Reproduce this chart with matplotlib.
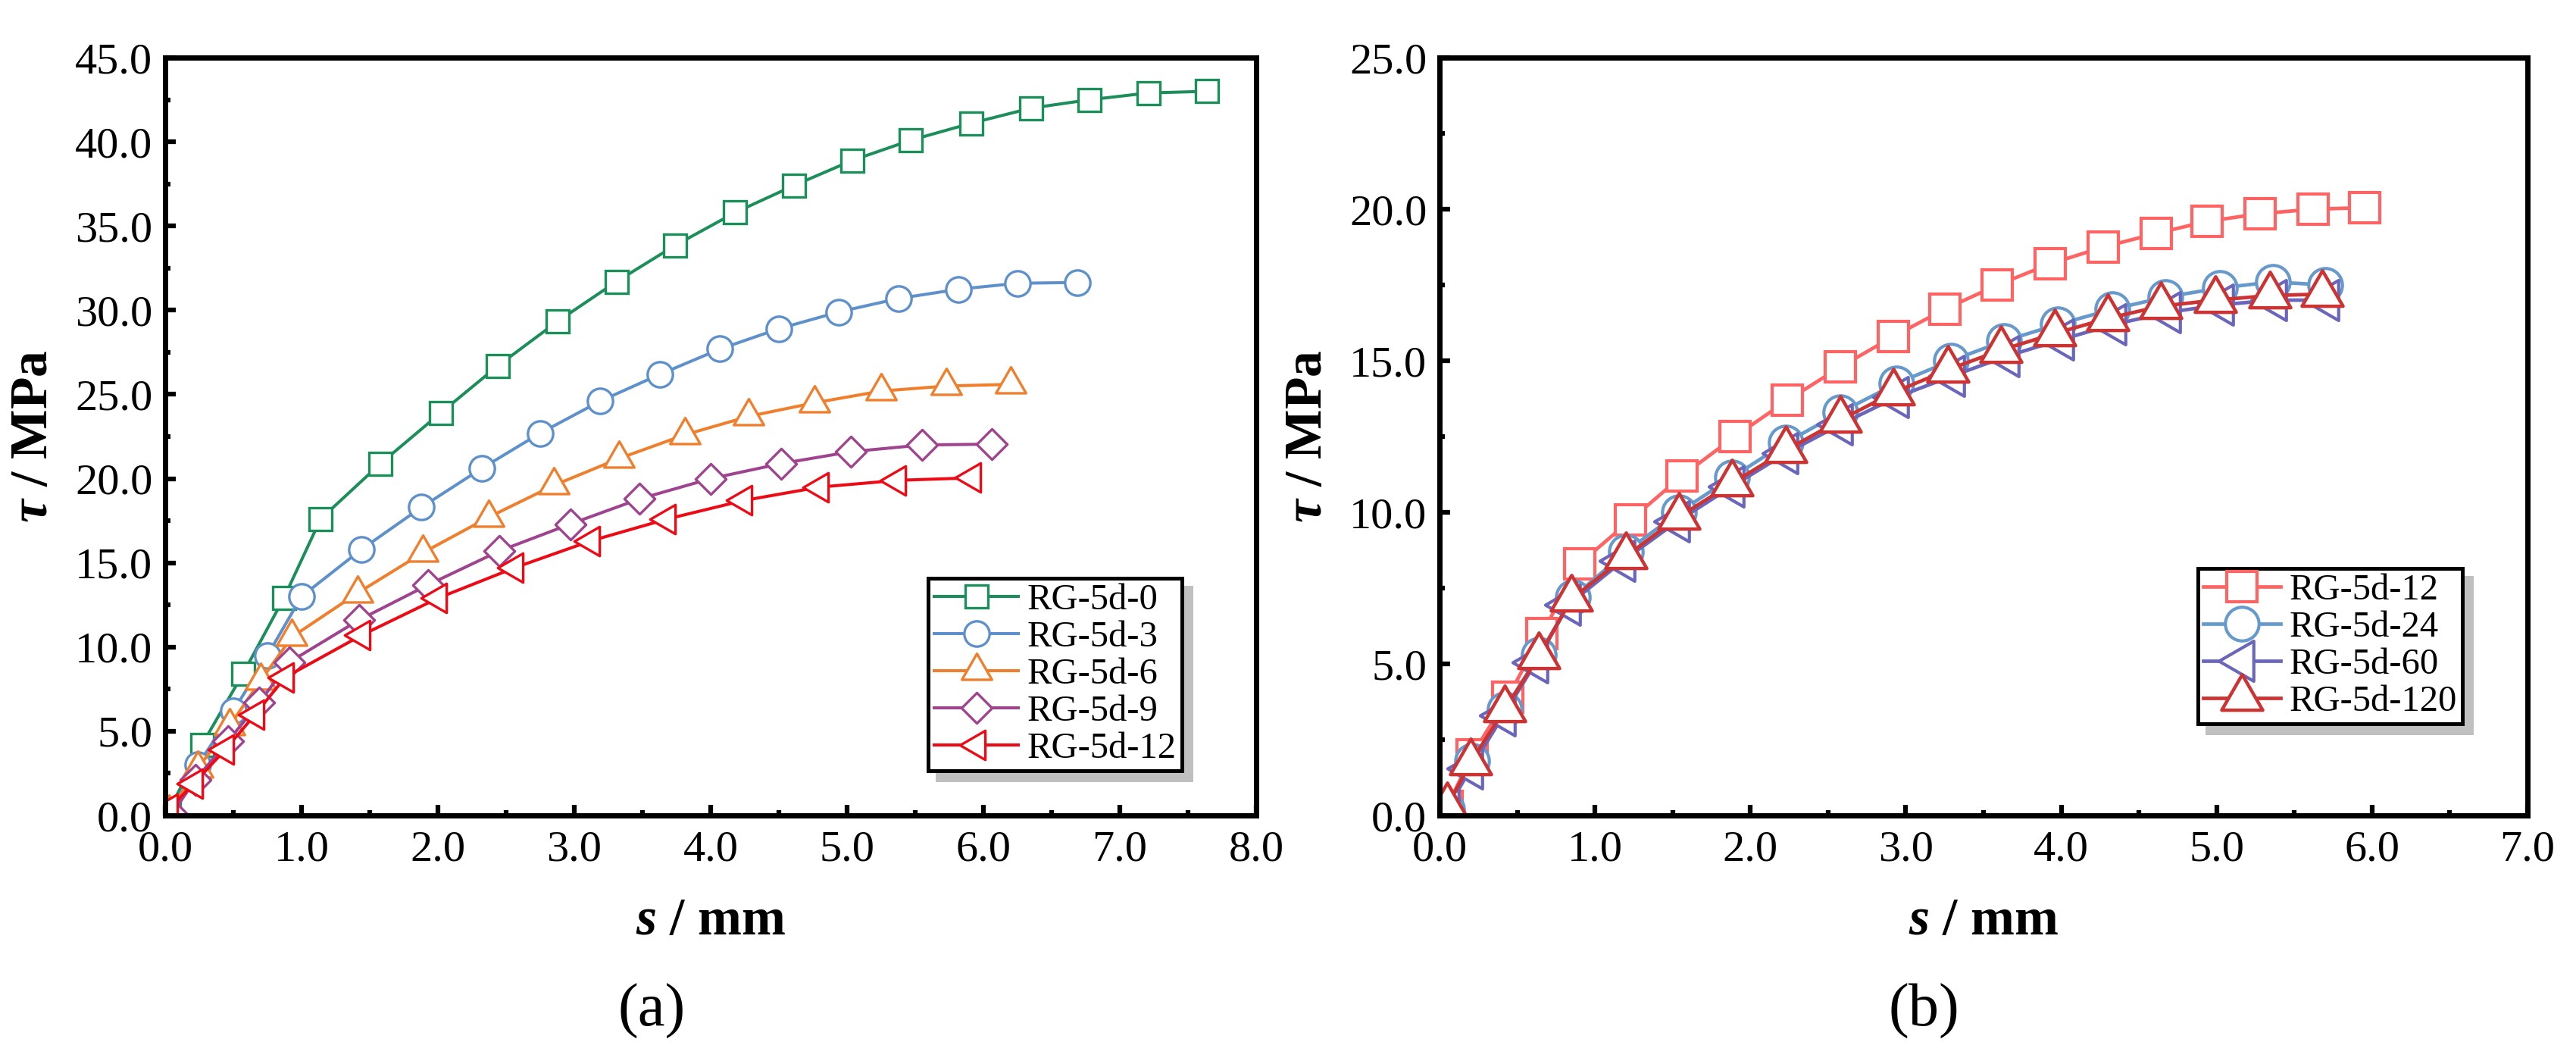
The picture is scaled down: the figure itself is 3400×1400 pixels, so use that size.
import numpy as np
import matplotlib
matplotlib.use("Agg")
import matplotlib.pyplot as plt
from matplotlib.path import Path
from matplotlib.markers import MarkerStyle
from matplotlib.ticker import MultipleLocator, FormatStrFormatter

plt.rcParams['font.family'] = ['Liberation Serif', 'DejaVu Serif']
plt.rcParams['mathtext.fontset'] = 'custom'
plt.rcParams['mathtext.it'] = 'Liberation Serif:italic:bold'
plt.rcParams['mathtext.rm'] = 'Liberation Serif:bold'
plt.rcParams['mathtext.bf'] = 'Liberation Serif:bold'

# (a) ---------------------------------
s_a0 = [0.03, 0.27, 0.57, 0.87, 1.14, 1.58, 2.02, 2.44, 2.88, 3.31, 3.74, 4.18, 4.61, 5.04, 5.47, 5.91, 6.35, 6.78, 7.21, 7.64]
t_a0 = [0.3, 4.2, 8.4, 12.9, 17.6, 20.9, 23.9, 26.7, 29.35, 31.7, 33.85, 35.8, 37.4, 38.9, 40.1, 41.1, 42.0, 42.5, 42.9, 43.0]
s_a3 = [0.03, 0.24, 0.5, 0.75, 1.0, 1.44, 1.88, 2.32, 2.75, 3.19, 3.63, 4.07, 4.5, 4.94, 5.38, 5.82, 6.25, 6.69]
t_a3 = [0.2, 3.0, 6.2, 9.5, 13.0, 15.8, 18.3, 20.6, 22.7, 24.6, 26.2, 27.7, 28.9, 29.9, 30.7, 31.25, 31.6, 31.65]
s_a6 = [0.03, 0.24, 0.47, 0.70, 0.93, 1.41, 1.89, 2.37, 2.85, 3.33, 3.81, 4.28, 4.76, 5.25, 5.73, 6.2]
t_a6 = [0.2, 2.8, 5.3, 8.0, 10.6, 13.2, 15.6, 17.7, 19.6, 21.2, 22.6, 23.7, 24.5, 25.2, 25.5, 25.6]
s_a9 = [0.05, 0.22, 0.46, 0.69, 0.91, 1.42, 1.93, 2.45, 2.97, 3.48, 4.0, 4.52, 5.03, 5.55, 6.06]
t_a9 = [0.1, 2.1, 4.4, 6.7, 9.1, 11.6, 13.7, 15.7, 17.3, 18.8, 20.0, 20.9, 21.6, 22.0, 22.05]
s_a12 = [0.03, 0.21, 0.44, 0.66, 0.88, 1.44, 2.0, 2.56, 3.12, 3.68, 4.24, 4.8, 5.37, 5.92]
t_a12 = [0.4, 1.9, 3.9, 6.0, 8.2, 10.7, 12.9, 14.7, 16.3, 17.6, 18.7, 19.5, 19.9, 20.05]

# (b) ---------------------------------
s_b12 = [0.05, 0.21, 0.44, 0.66, 0.9, 1.23, 1.56, 1.9, 2.24, 2.58, 2.92, 3.25, 3.59, 3.93, 4.27, 4.61, 4.94, 5.28, 5.62, 5.95]
t_b12 = [0.3, 2.0, 3.9, 6.0, 8.3, 9.75, 11.2, 12.5, 13.7, 14.8, 15.8, 16.7, 17.5, 18.2, 18.75, 19.2, 19.6, 19.85, 20.0, 20.05]
s_b24 = [0.05, 0.21, 0.42, 0.64, 0.86, 1.2, 1.54, 1.88, 2.23, 2.58, 2.94, 3.29, 3.63, 3.98, 4.33, 4.67, 5.02, 5.36, 5.7]
t_b24 = [0.2, 1.8, 3.5, 5.3, 7.2, 8.7, 10.0, 11.15, 12.3, 13.3, 14.25, 15.0, 15.65, 16.2, 16.7, 17.1, 17.4, 17.6, 17.5]
s_b60 = [0.05, 0.2, 0.41, 0.62, 0.83, 1.18, 1.53, 1.88, 2.23, 2.58, 2.94, 3.3, 3.65, 4.0, 4.34, 4.69, 5.03, 5.37, 5.71]
t_b60 = [0.2, 1.55, 3.3, 5.05, 6.95, 8.4, 9.7, 10.85, 11.95, 12.9, 13.8, 14.5, 15.15, 15.7, 16.2, 16.6, 16.85, 17.0, 17.0]
s_b120 = [0.05, 0.2, 0.42, 0.64, 0.85, 1.2, 1.54, 1.88, 2.23, 2.58, 2.92, 3.27, 3.61, 3.96, 4.3, 4.64, 4.99, 5.34, 5.68]
t_b120 = [0.3, 1.75, 3.5, 5.25, 7.15, 8.55, 9.85, 10.95, 12.05, 13.05, 13.95, 14.7, 15.35, 15.9, 16.4, 16.8, 17.0, 17.15, 17.2]


def shape(verts):
    p = Path(verts + [(0, 0)], closed=True)
    return MarkerStyle(p, joinstyle='miter')


tri_up = shape([(0, 1), (-0.866, -0.5), (0.866, -0.5)])
tri_left = shape([(-1, 0), (0.5, 0.866), (0.5, -0.866)])
diamond = shape([(0, 1), (1, 0), (0, -1), (-1, 0)])
square = MarkerStyle('s', joinstyle='miter')
circle = MarkerStyle('o')


def style_axes(ax, xmax, ymax, ystep):
    ax.set_xlim(0, xmax)
    ax.set_ylim(0, ymax)
    ax.xaxis.set_major_locator(MultipleLocator(1.0))
    ax.xaxis.set_minor_locator(MultipleLocator(0.5))
    ax.yaxis.set_major_locator(MultipleLocator(ystep))
    ax.yaxis.set_minor_locator(MultipleLocator(ystep / 2))
    ax.xaxis.set_major_formatter(FormatStrFormatter('%.1f'))
    ax.yaxis.set_major_formatter(FormatStrFormatter('%.1f'))
    ax.tick_params(which='both', direction='in', top=False, right=False, width=4.5)
    ax.tick_params(which='major', length=10, labelsize=42)
    ax.tick_params(axis='x', which='major', pad=14)
    ax.tick_params(axis='y', which='major', pad=12)
    ax.tick_params(which='minor', length=5)
    for sp in ax.spines.values():
        sp.set_linewidth(5)
    ax.set_xlabel(r'$s$ / mm', fontsize=50, fontweight='bold', labelpad=26)
    ax.set_ylabel(r'$\tau$ / MPa', fontsize=50, fontweight='bold', labelpad=16)


fig = plt.figure(figsize=(34, 14), dpi=100)

ax1 = fig.add_axes([0.0641, 0.2314, 0.4235, 0.7143])
ax1.plot(s_a0, t_a0, color='#1b8e5a', lw=2.9, marker=square, ms=21, mew=2.4, mfc='white', label='RG-5d-0')
ax1.plot(s_a3, t_a3, color='#5e91cb', lw=2.9, marker=circle, ms=24, mew=2.4, mfc='white', label='RG-5d-3')
ax1.plot(s_a6, t_a6, color='#ef7f2c', lw=2.9, marker=tri_up, ms=33, mew=2.4, mfc='white', label='RG-5d-6')
ax1.plot(s_a9, t_a9, color='#a0438f', lw=2.9, marker=diamond, ms=29, mew=2.4, mfc='white', label='RG-5d-9')
ax1.plot(s_a12, t_a12, color='#ee0a14', lw=2.9, marker=tri_left, ms=32, mew=2.4, mfc='white', label='RG-5d-12')
style_axes(ax1, 8, 45, 5)
leg1 = ax1.legend(loc='lower right', bbox_to_anchor=(0.932, 0.059), borderaxespad=0,
                  fontsize=35, handlelength=2.3, handletextpad=0.23, labelspacing=0.1,
                  borderpad=0.15, fancybox=False, framealpha=1, edgecolor='black',
                  shadow={'ox': 8.6, 'oy': -8.6, 'facecolor': '#c0c0c0', 'edgecolor': '#c0c0c0', 'alpha': 1})
leg1.get_frame().set_linewidth(3.6)

ax2 = fig.add_axes([0.5588, 0.2314, 0.4224, 0.7143])
ax2.plot(s_b12, t_b12, color='#ff6464', lw=3.4, marker=square, ms=29, mew=3.0, mfc='white', label='RG-5d-12')
ax2.plot(s_b24, t_b24, color='#6699cc', lw=3.4, marker=circle, ms=32, mew=3.0, mfc='white', label='RG-5d-24')
ax2.plot(s_b60, t_b60, color='#6a66bb', lw=3.4, marker=tri_left, ms=44, mew=3.0, mfc='white', label='RG-5d-60')
ax2.plot(s_b120, t_b120, color='#cc3333', lw=3.4, marker=tri_up, ms=45, mew=3.2, mfc='white', label='RG-5d-120')
style_axes(ax2, 7, 25, 5)
leg2 = ax2.legend(loc='lower right', bbox_to_anchor=(0.940, 0.121), borderaxespad=0,
                  fontsize=35, handlelength=2.1, handletextpad=0.23, labelspacing=0.1,
                  borderpad=0.15, fancybox=False, framealpha=1, edgecolor='black',
                  shadow={'ox': 8.6, 'oy': -8.6, 'facecolor': '#c0c0c0', 'edgecolor': '#c0c0c0', 'alpha': 1})
leg2.get_frame().set_linewidth(3.6)

fig.text(0.253, 0.047, '(a)', ha='center', va='center', fontsize=58)
fig.text(0.747, 0.047, '(b)', ha='center', va='center', fontsize=58)

fig.savefig('out.png', dpi=100)
